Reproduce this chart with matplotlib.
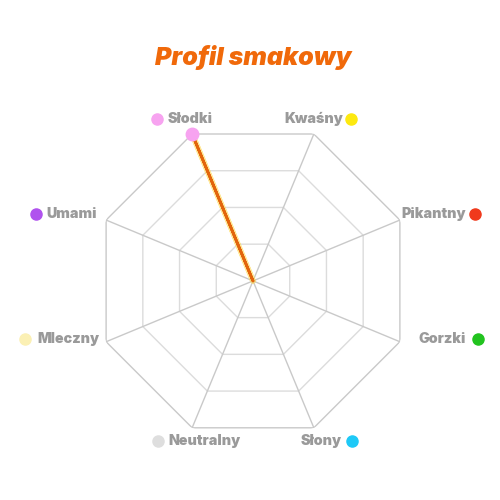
import numpy as np
import matplotlib
matplotlib.use("Agg")
import matplotlib.pyplot as plt
from matplotlib.transforms import offset_copy

# dane
categories = ["Słodki", "Kwaśny", "Pikantny", "Gorzki", "Słony", "Neutralny", "Mleczny", "Umami"]
values = [4, 0, 0, 0, 0, 0, 0, 0]
dot_colors = ["#f7a3f0", "#fde910", "#f0391c", "#22c31f", "#1ec9f7", "#dedede", "#fbf0b4", "#b052ee"]
levels = [1, 2, 3, 4]
title = "Profil smakowy"

# pozycje etykiet w pikselach wzgledem wierzcholka: (tekst dx, dy, ha, kropka dx, dy)
label_pos = [
    (-2, 15, "center", -35, 15),
    (0, 15, "center", 37, 15),
    (1, 6, "left", 75, 6),
    (19, 3, "left", 78, 3),
    (-13, -13, "left", 38, -13),
    (-24, -13, "left", -34, -13),
    (-7, 3, "right", -81, 3),
    (-9, 6, "right", -70, 6),
]

plt.rcParams['font.family'] = ['Inter', 'DejaVu Sans']

fig = plt.figure(figsize=(5, 5), dpi=100)
size = 0.636
ax = fig.add_axes([0.506 - size / 2, 1 - 0.5618 - size / 2, size, size], projection="polar")
ax.set_theta_zero_location("N")
ax.set_theta_direction(-1)
n = len(categories)
angles = np.deg2rad(-22.5 + 360.0 / n * np.arange(n))
ax.set_ylim(0, 4)
ax.set_xticks([])
ax.set_yticks([])
ax.grid(False)
ax.spines["polar"].set_visible(False)
ax.patch.set_alpha(0)

closed = np.append(angles, angles[0])

# siatka
for lv in levels:
    col = "#c9c9c9" if lv == levels[-1] else "#dcdcdc"
    ax.plot(closed, [lv] * (n + 1), color=col, lw=1.0, zorder=1)
for a in angles:
    ax.plot([a, a], [0, levels[-1]], color="#c9c9c9", lw=1.0, zorder=1)

# seria
vals = np.append(values, values[0])
ax.plot(closed, vals, color="#ffd84a", lw=4.0, alpha=0.55, zorder=3, solid_capstyle="round")
ax.plot(closed, vals, color="#e2650c", lw=2.0, zorder=4, solid_capstyle="round")
for a, v, c in zip(angles, values, dot_colors):
    if v > 0:
        ax.plot(a, v, "o", color=c, ms=9, zorder=5, clip_on=False)

# etykiety
for a, name, c, (tx, ty, ha, dx, dy) in zip(angles, categories, dot_colors, label_pos):
    ax.annotate(name, xy=(a, levels[-1]), xytext=(tx, ty), textcoords="offset pixels",
                ha=ha, va="center", fontsize=10.3, fontweight="black", color="#9a9a9a",
                annotation_clip=False)
    tr = offset_copy(ax.transData, fig=fig, x=dx, y=dy, units="dots")
    ax.plot(a, levels[-1], "o", color=c, ms=8, transform=tr, clip_on=False, zorder=6)

fig.text(0.506, 0.886, title, ha="center", va="center", fontsize=18, fontweight="black",
         style="italic", color="#f0690a")

fig.savefig("out.png", dpi=100)
